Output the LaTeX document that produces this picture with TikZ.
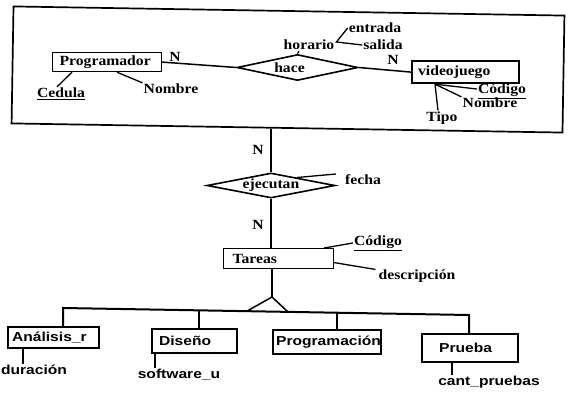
\documentclass[tikz,border=0pt]{standalone}
\usepackage{fontspec}
\newfontfamily\erser{Liberation Serif}[FakeStretch=1.12]
\newfontfamily\ersan{Liberation Sans}[FakeStretch=1.2]
\usetikzlibrary{shapes.geometric,calc}
\begin{document}
\begin{tikzpicture}[x=1pt,y=-1pt,
  conn/.style={line width=1.5pt},
  st/.style={font=\erser\bfseries\fontsize{14}{16}\selectfont, inner sep=1pt},
  ss/.style={font=\ersan\bfseries\fontsize{13}{15}\selectfont, inner sep=1pt},
  ent/.style={draw, rectangle, anchor=north west, inner ysep=0pt, line width=1.2pt, font=\erser\bfseries\fontsize{14}{16}\selectfont},
  sbox/.style={draw, rectangle, anchor=north west, inner ysep=0pt, line width=2.2pt, font=\ersan\bfseries\fontsize{13}{15}\selectfont},
  rel/.style={draw, diamond, aspect=5, inner sep=0pt, line width=1.6pt, font=\erser\bfseries\fontsize{14}{16}\selectfont}
]
\useasboundingbox (0,0) rectangle (578,401);

% frame
\node[draw, line width=1.7pt, minimum width=551pt, minimum height=117pt, rotate=-0.95, inner sep=0pt] (frame) at (288,69.5) {};

% entities
\node[ent, minimum width=109pt, minimum height=19pt, inner xsep=7pt] (prog) at (52,52) {\makebox[95pt][l]{Programador}};
\node[ent, line width=2.2pt, minimum width=107pt, minimum height=22pt, inner xsep=6pt] (vj) at (411,60) {\makebox[95pt][l]{videojuego}};
\node[ent, minimum width=110pt, minimum height=20pt, inner xsep=9pt] (tar) at (223,248) {\makebox[92pt][l]{Tareas}};

% relationships
\node[rel, minimum width=121pt, minimum height=26pt, label={[st, xshift=-8pt]center:hace}] (hace) at (297.5,67.5) {};
\node[rel, minimum width=128pt, minimum height=25pt] (ejec) at (271,185.5) {ejecutan};

% subtype boxes
\node[sbox, minimum width=91pt, minimum height=21pt, inner xsep=4pt] (ana) at (7,326) {\makebox[83pt][l]{Análisis\_r}};
\node[sbox, minimum width=85pt, minimum height=24pt, inner xsep=7pt] (dis) at (151,328) {\makebox[71pt][l]{Diseño}};
\node[sbox, minimum width=108pt, minimum height=24pt, inner xsep=3pt] (pro) at (272,329) {\makebox[102pt][l]{Programación}};
\node[sbox, minimum width=96pt, minimum height=28pt, inner xsep=17pt] (pru) at (421,333) {\makebox[62pt][l]{Prueba}};

% cardinalities
\node[st] (n1) at (175,57) {N};
\node[st] (n2) at (393,60) {N};
\node[st] (n3) at (258,150) {N};
\node[st] (n4) at (258,225) {N};

% attributes
\node[st] (ced) at (61,94) {\underline{Cedula}};
\node[st] (nom1) at (171,89) {Nombre};
\node[st] (hor) at (309,45) {horario};
\node[st] (entr) at (375,28) {entrada};
\node[st] (sal) at (383,45) {salida};
\node[st] (cod1) at (502,91) {\underline{Código}};
\node[st] (nom2) at (490,103) {Nombre};
\node[st] (tipo) at (442,118) {Tipo};
\node[st] (fec) at (363,180) {fecha};
\node[st] (cod2) at (378,243) {\underline{Código}};
\node[st] (desc) at (417,276) {descripción};
\node[ss] (dur) at (34,370) {duración};
\node[ss] (soft) at (179,375) {software\_u};
\node[ss] (cant) at (489,382) {cant\_pruebas};

% relationship connectors
\draw[conn] (prog.east) -- (hace.west);
\draw[conn] (hace.east) -- (vj.west);
\draw[conn] (ejec.north) -- (ejec.north |- frame.south);
\draw[conn] (ejec.south) -- (ejec.south |- tar.north);

% attribute connectors
\draw[line width=1.3pt] ([xshift=20pt]prog.south west) -- ([xshift=-4pt]ced.north);
\draw[line width=1.3pt] ([xshift=65pt]prog.south west) -- (nom1.north west);
\draw[line width=1.3pt] (hace.north) -- ([xshift=-10pt]hor.south);
\draw[line width=1.3pt] (entr.west) -- ([xshift=1pt,yshift=3pt]hor.east) -- (sal.west);
\draw[line width=1.3pt] ([xshift=24pt]vj.south west) -- ([yshift=2pt]cod1.west);
\draw[line width=1.3pt] ([xshift=24pt]vj.south west) -- (nom2.north west);
\draw[line width=1.3pt] ([xshift=24pt]vj.south west) -- ([xshift=-4pt]tipo.north);
\draw[line width=1.3pt] ($(ejec.north)!0.4!(ejec.east)$) -- ([xshift=-8pt,yshift=6pt]fec.west);
\draw[line width=1.3pt] ([xshift=-10pt]tar.north east) -- (cod2.west);
\draw[line width=1.3pt] ([yshift=-4pt]tar.east) -- ([xshift=-2pt,yshift=-1pt]desc.north west);

% generalization
\coordinate (apex) at (272,297);
\coordinate (barL) at (63,308);
\coordinate (barR) at (469,315);
\coordinate (legL) at ($(barL)!0.453!(barR)$);
\coordinate (legR) at ($(barL)!0.554!(barR)$);
\coordinate (bD) at ($(barL)!0.335!(barR)$);
\coordinate (bP) at ($(barL)!0.675!(barR)$);
\draw[conn] (apex |- tar.south) -- (apex);
\draw[conn] (legL) -- (apex) -- (legR);
\draw[line width=2pt] (ana.north -| barL) -- (barL) -- (barR) -- (pru.north -| barR);
\draw[line width=2pt] (bD) -- (bD |- dis.north);
\draw[line width=2pt] (bP) -- (bP |- pro.north);

% subtype attributes
\draw[line width=2.2pt] ([xshift=16pt]ana.south west) -- ([xshift=16pt]ana.south west |- dur.north);
\draw[line width=2.2pt] ([xshift=4pt]dis.south west) -- ([xshift=4pt]dis.south west |- soft.north);
\draw[line width=2.2pt] ([xshift=31pt]pru.south west) -- ([xshift=31pt]pru.south west |- cant.north);
\end{tikzpicture}
\end{document}
